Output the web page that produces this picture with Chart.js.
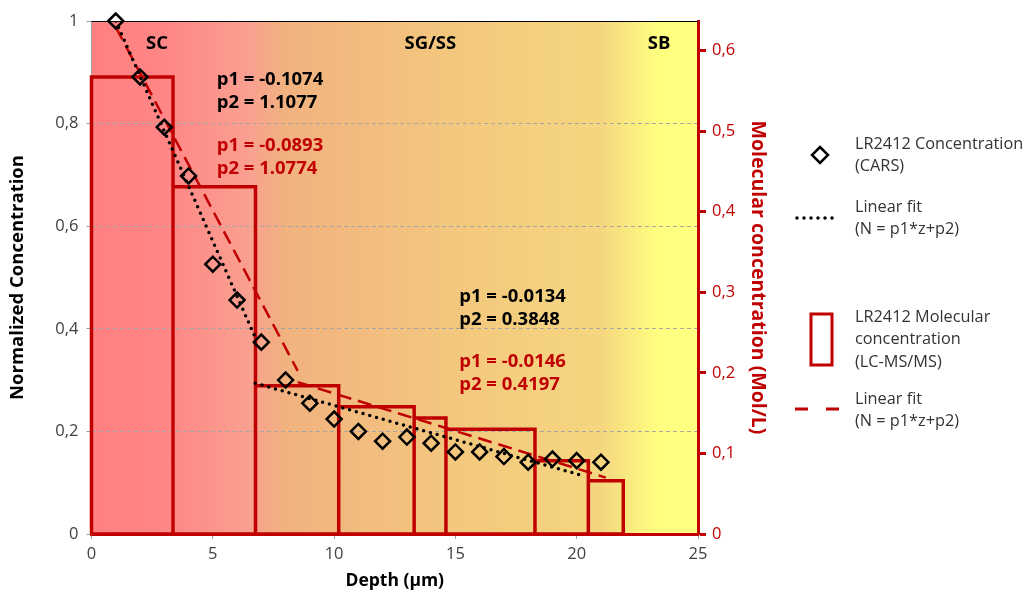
<!DOCTYPE html>
<html>
<head>
<meta charset="utf-8">
<script src="https://cdn.jsdelivr.net/npm/chart.js@4.4.1/dist/chart.umd.min.js"></script>
<style>
  html, body { margin: 0; padding: 0; background: #fff; }
  #wrap { width: 1030px; height: 594px; position: relative; }
</style>
</head>
<body>
<div id="wrap"><canvas id="depthChart" width="1030" height="594"></canvas></div>
<script>
// CARS depth profile (normalized, left axis)
const depth = [1, 2, 3, 4, 5, 6, 7, 8, 9, 10, 11, 12, 13, 14, 15, 16, 17, 18, 19, 20, 21];
const carsConc = [1.0, 0.891, 0.793, 0.698, 0.526, 0.456, 0.374, 0.300, 0.255, 0.224, 0.200,
                  0.181, 0.189, 0.177, 0.160, 0.160, 0.151, 0.140, 0.146, 0.143, 0.140];

// LC-MS/MS slices (right axis, Mol/L)
const sliceEdges = [0, 3.36, 6.76, 10.19, 13.30, 14.61, 18.28, 20.48, 21.92];
const msConc = [0.567, 0.431, 0.184, 0.158, 0.144, 0.130, 0.091, 0.066];

// fitted segments, end points
const carsFitAx = [1, 6.75],   carsFitAy = [1.0, 0.383];
const carsFitBx = [6.75, 20.3], carsFitBy = [0.294, 0.113];
const msFitAx = [1, 8.5],      msFitAy = [0.988, 0.318];
const msFitBx = [8.5, 21.2],   msFitBy = [0.296, 0.110];

const fitLabels = [
  { x: 5.16, y: 0.885, lines: ['p1 = -0.1074', 'p2 = 1.1077'], color: '#000' },
  { x: 5.16, y: 0.756, lines: ['p1 = -0.0893', 'p2 = 1.0774'], color: '#C00000' },
  { x: 15.16, y: 0.462, lines: ['p1 = -0.0134', 'p2 = 0.3848'], color: '#000' },
  { x: 15.16, y: 0.335, lines: ['p1 = -0.0146', 'p2 = 0.4197'], color: '#C00000' }
];
const zoneLabels = [
  { x: 2.7, text: 'SC' },
  { x: 13.97, text: 'SG/SS' },
  { x: 23.4, text: 'SB' }
];

const RED = '#C00000';
const FONT = "'Open Sans', sans-serif";

const pts = (xs, ys) => xs.map((x, i) => ({ x, y: ys[i] }));

const slicePath = [{ x: sliceEdges[0], y: 0 }];
msConc.forEach((c, i) => {
  slicePath.push({ x: sliceEdges[i], y: c }, { x: sliceEdges[i + 1], y: c }, { x: sliceEdges[i + 1], y: 0 });
});
slicePath.push({ x: sliceEdges[0], y: 0 });

const commaFmt = v => Number(v.toFixed(2)).toString().replace('.', ',');

const decor = {
  id: 'decor',
  beforeDraw(chart) {
    const { ctx, chartArea: a } = chart;
    const g = ctx.createLinearGradient(a.left, 0, a.right, 0);
    g.addColorStop(0, '#FF8080');
    g.addColorStop(0.12, '#FF8686');
    g.addColorStop(0.26, '#FAA090');
    g.addColorStop(0.32, '#F1B27F');
    g.addColorStop(0.6, '#F3C87E');
    g.addColorStop(0.84, '#F5D680');
    g.addColorStop(0.935, '#FFFF80');
    g.addColorStop(1, '#FFFF80');
    ctx.save();
    ctx.fillStyle = g;
    ctx.fillRect(a.left, a.top, a.right - a.left, a.bottom - a.top);
    ctx.restore();
  },
  beforeDatasetsDraw(chart) {
    const { ctx, chartArea: a } = chart;
    ctx.save();
    ctx.strokeStyle = '#000';
    ctx.lineWidth = 1;
    ctx.beginPath();
    ctx.moveTo(a.left, a.top + 0.5);
    ctx.lineTo(a.right, a.top + 0.5);
    ctx.stroke();
    ctx.restore();
  },
  afterDraw(chart) {
    const { ctx, scales: { x, y } } = chart;
    ctx.save();
    ctx.textBaseline = 'middle';

    // zone names
    ctx.font = 'bold 18.5px ' + FONT;
    ctx.fillStyle = '#000';
    ctx.textAlign = 'center';
    zoneLabels.forEach(z => ctx.fillText(z.text, x.getPixelForValue(z.x), 44));

    // fit parameters
    ctx.textAlign = 'left';
    ctx.font = 'bold 18.5px ' + FONT;
    fitLabels.forEach(f => {
      ctx.fillStyle = f.color;
      const px = x.getPixelForValue(f.x), py = y.getPixelForValue(f.y);
      f.lines.forEach((t, i) => ctx.fillText(t, px, py + i * 23));
    });

    // legend
    ctx.font = '16.3px ' + FONT;
    ctx.fillStyle = '#333333';
    const text = (lines, x0, y0) => lines.forEach((t, i) => ctx.fillText(t, x0, y0 + i * 22.5));
    text(['LR2412 Concentration', '(CARS)'], 855, 144);
    text(['Linear fit', '(N = p1*z+p2)'], 855, 207);
    text(['LR2412 Molecular', 'concentration', '(LC-MS/MS)'], 855, 317);
    text(['Linear fit', '(N = p1*z+p2)'], 855, 399);

    // diamond
    ctx.strokeStyle = '#000';
    ctx.lineWidth = 2.5;
    ctx.beginPath();
    ctx.moveTo(820, 147); ctx.lineTo(828, 155); ctx.lineTo(820, 163); ctx.lineTo(812, 155);
    ctx.closePath();
    ctx.stroke();
    // dotted
    ctx.lineCap = 'round';
    ctx.lineWidth = 3.5;
    ctx.setLineDash([0, 7]);
    ctx.beginPath(); ctx.moveTo(797, 218); ctx.lineTo(836, 218); ctx.stroke();
    // slice box
    ctx.lineCap = 'butt';
    ctx.setLineDash([]);
    ctx.strokeStyle = RED;
    ctx.lineWidth = 3;
    ctx.strokeRect(811, 314, 21, 51);
    // dashed
    ctx.setLineDash([13, 18]);
    ctx.lineWidth = 3;
    ctx.beginPath(); ctx.moveTo(795, 409); ctx.lineTo(840, 409); ctx.stroke();
    ctx.restore();
  }
};

new Chart(document.getElementById('depthChart'), {
  type: 'scatter',
  data: {
    datasets: [
      {
        label: 'LR2412 Concentration (CARS)',
        data: pts(depth, carsConc),
        yAxisID: 'y',
        pointStyle: 'rectRot',
        pointRadius: 7.5,
        pointBorderWidth: 2.5,
        pointBorderColor: '#000',
        pointBackgroundColor: 'rgba(0,0,0,0)',
        clip: false,
        order: 1
      },
      {
        label: 'Linear fit CARS A',
        data: pts(carsFitAx, carsFitAy),
        yAxisID: 'y', showLine: true, pointRadius: 0,
        borderColor: '#000', borderWidth: 3.5, borderDash: [0, 7], borderCapStyle: 'round',
        order: 2
      },
      {
        label: 'Linear fit CARS B',
        data: pts(carsFitBx, carsFitBy),
        yAxisID: 'y', showLine: true, pointRadius: 0,
        borderColor: '#000', borderWidth: 3.5, borderDash: [0, 7], borderCapStyle: 'round',
        order: 2
      },
      {
        label: 'Linear fit MS A',
        data: pts(msFitAx, msFitAy),
        yAxisID: 'y', showLine: true, pointRadius: 0,
        borderColor: RED, borderWidth: 2.5, borderDash: [14, 7],
        order: 3
      },
      {
        label: 'Linear fit MS B',
        data: pts(msFitBx, msFitBy),
        yAxisID: 'y', showLine: true, pointRadius: 0,
        borderColor: RED, borderWidth: 2.5, borderDash: [14, 7],
        order: 3
      },
      {
        label: 'LR2412 Molecular concentration (LC-MS/MS)',
        data: slicePath,
        yAxisID: 'y2', showLine: true, pointRadius: 0,
        borderColor: RED, borderWidth: 3.5, borderJoinStyle: 'miter',
        clip: false,
        order: 4
      }
    ]
  },
  options: {
    responsive: false,
    animation: false,
    events: [],
    layout: { padding: { left: 0, top: 21, right: 260, bottom: 0 } },
    plugins: { legend: { display: false }, tooltip: { enabled: false } },
    scales: {
      x: {
        type: 'linear', min: 0, max: 25,
        afterFit: s => { s.height = 60; },
        ticks: { stepSize: 5, color: '#404040', font: { family: FONT, size: 16.5 }, padding: 5 },
        grid: { drawOnChartArea: false, tickColor: '#A0A0A0', tickLength: 5 },
        border: { color: RED, width: 3 },
        title: { display: true, text: 'Depth (µm)', color: '#000',
                 font: { family: FONT, size: 17.5, weight: 'bold' }, padding: { top: 0, bottom: 2 } }
      },
      y: {
        position: 'left', min: 0, max: 1,
        afterFit: s => { s.width = 91.5; },
        ticks: { stepSize: 0.2, color: '#404040', font: { family: FONT, size: 16.5 }, padding: 8,
                 callback: commaFmt },
        grid: {
          color: c => (c.tick && (c.tick.value === 0 || c.tick.value === 1)) ? 'rgba(0,0,0,0)' : '#A6A6A6',
          tickColor: '#A0A0A0', tickLength: 5
        },
        border: { color: '#A0A0A0', width: 1, dash: [4, 3] },
        title: { display: true, text: 'Normalized Concentration', color: '#000',
                 font: { family: FONT, size: 18.5, weight: 'bold' }, padding: { top: 7, bottom: 0 } }
      },
      y2: {
        position: 'right', min: 0, max: 0.6365,
        afterFit: s => { s.width = 72; },
        ticks: { stepSize: 0.1, includeBounds: false, color: RED, font: { family: FONT, size: 16.5 },
                 padding: 6, callback: commaFmt },
        grid: { drawOnChartArea: false, tickColor: RED, tickWidth: 3, tickLength: 8 },
        border: { color: RED, width: 3 },
        title: { display: true, text: 'Molecular concentration (Mol/L)', color: RED,
                 font: { family: FONT, size: 19.5, weight: 'bold' }, padding: { top: 1, bottom: 0 } }
      }
    }
  },
  plugins: [decor]
});
</script>
</body>
</html>
